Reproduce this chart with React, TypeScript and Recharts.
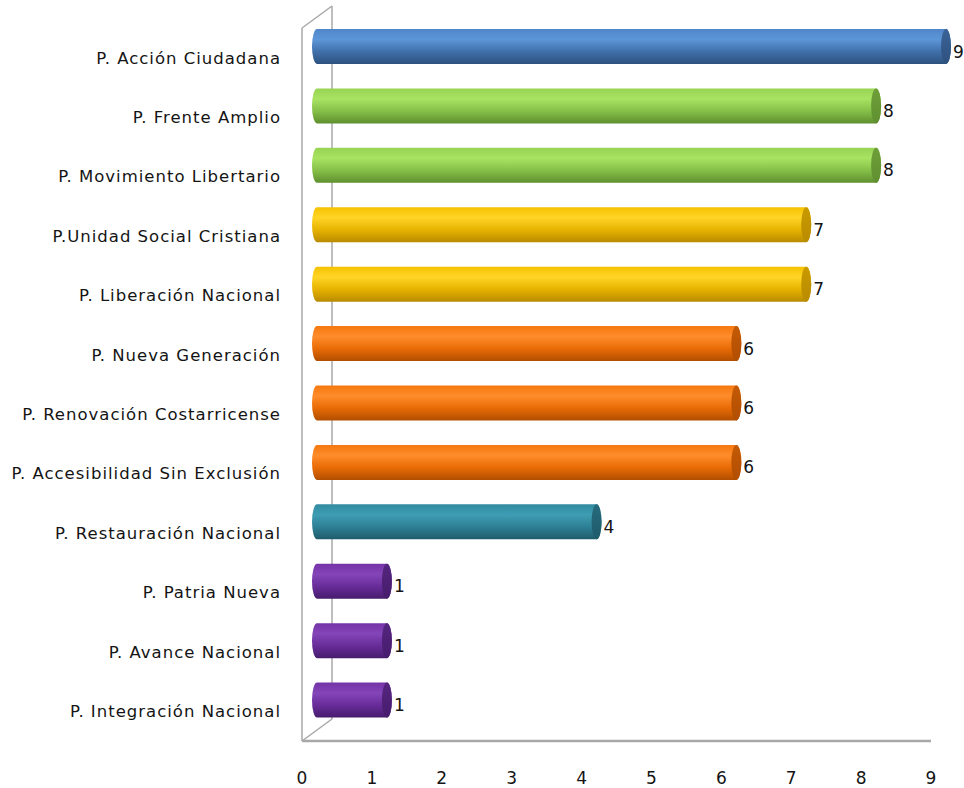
import React from "react";
import { BarChart, Bar, XAxis, YAxis, LabelList, Customized } from "recharts";

// Datos
const partidos = [
  "P. Acción Ciudadana",
  "P. Frente Amplio",
  "P. Movimiento Libertario",
  "P.Unidad Social Cristiana",
  "P. Liberación Nacional",
  "P. Nueva Generación",
  "P. Renovación Costarricense",
  "P. Accesibilidad Sin Exclusión",
  "P. Restauración Nacional",
  "P. Patria Nueva",
  "P. Avance Nacional",
  "P. Integración Nacional",
];
const valores = [9, 8, 8, 7, 7, 6, 6, 6, 4, 1, 1, 1];
const ticks = [0, 1, 2, 3, 4, 5, 6, 7, 8, 9];

// Paleta por barra: tonos del cuerpo (arriba -> abajo) y tapa
const paletas: Record<string, string[]> = {
  azul: ["#4f86c9", "#5d96d8", "#3f6fa9", "#2e527f", "#3b6397"],
  verde: ["#97d354", "#a9e362", "#86bf48", "#5f8f2f", "#6e9f3a"],
  amarillo: ["#f5c200", "#ffd526", "#e6b200", "#b98b00", "#c99a00"],
  naranja: ["#f5780f", "#ff8c2b", "#e86b05", "#b14e00", "#c45a06"],
  verdeAzul: ["#338ba1", "#3e9db3", "#2d7f94", "#1f5b6b", "#266b7c"],
  morado: ["#7434a8", "#8445b8", "#682c99", "#461c6c", "#55257f"],
};
const colorBarra = [
  "azul", "verde", "verde", "amarillo", "amarillo", "naranja",
  "naranja", "naranja", "verdeAzul", "morado", "morado", "morado",
];

const data = partidos.map((name, i) => ({ name, value: valores[i], color: colorBarra[i] }));

// geometría del "3D"
const W = 964;
const H = 788;
const LEFT = 302;
const TOP = 28;
const RIGHT = 931;
const BOTTOM = 741;
const DEPTH_X = 30;
const DEPTH_Y = 22;
const DX = DEPTH_X / 2;
const DY = -DEPTH_Y / 2;
const RX = 5;
const FONT = "DejaVu Sans";

const Cilindro = (props: any) => {
  const { x, y, width, height, payload } = props;
  const x0 = x + DX;
  const x1 = x + width + DX;
  const y0 = y + DY;
  const h = height;
  const ry = h / 2;
  const key = payload.color;
  const d = `M${x0},${y0} A${RX},${ry} 0 0 0 ${x0},${y0 + h} L${x1},${y0 + h} A${RX},${ry} 0 0 0 ${x1},${y0} Z`;
  return (
    <g>
      <path d={d} fill={`url(#cuerpo-${key})`} />
      <ellipse cx={x1} cy={y0 + ry} rx={RX} ry={ry} fill={`url(#tapa-${key})`} />
    </g>
  );
};

const Etiqueta = (props: any) => {
  const { x, y, width, height, value } = props;
  return (
    <text
      x={x + width + DX + 7}
      y={y + height / 2 + DY + 5}
      fontSize={17}
      fill="#141414"
      fontFamily={FONT}
      dominantBaseline="central"
    >
      {value}
    </text>
  );
};

const Pared = () => (
  <g stroke="#a8a8a8" strokeWidth={1.5} fill="none">
    <line x1={LEFT} y1={TOP} x2={LEFT} y2={BOTTOM} />
    <line x1={LEFT + DEPTH_X} y1={TOP - DEPTH_Y} x2={LEFT + DEPTH_X} y2={BOTTOM - DEPTH_Y} />
    <line x1={LEFT} y1={TOP} x2={LEFT + DEPTH_X} y2={TOP - DEPTH_Y} />
    <line x1={LEFT} y1={BOTTOM} x2={LEFT + DEPTH_X} y2={BOTTOM - DEPTH_Y} />
    <line x1={LEFT} y1={BOTTOM} x2={RIGHT} y2={BOTTOM} strokeWidth={2.5} />
  </g>
);

export default function App() {
  return (
    <div style={{ position: "absolute", left: 0, top: 0, background: "#fff" }}>
      <BarChart
        width={W}
        height={H}
        data={data}
        layout="vertical"
        margin={{ top: TOP, right: W - RIGHT, left: 0, bottom: 0 }}
        barSize={35}
      >
        <defs>
          {Object.entries(paletas).map(([k, c]) => (
            <React.Fragment key={k}>
              <linearGradient id={`cuerpo-${k}`} x1="0" y1="0" x2="0" y2="1">
                <stop offset="0%" stopColor={c[0]} />
                <stop offset="30%" stopColor={c[1]} />
                <stop offset="65%" stopColor={c[2]} />
                <stop offset="100%" stopColor={c[3]} />
              </linearGradient>
              <linearGradient id={`tapa-${k}`} x1="0" y1="0" x2="0" y2="1">
                <stop offset="0%" stopColor={c[4]} />
                <stop offset="100%" stopColor={c[3]} />
              </linearGradient>
            </React.Fragment>
          ))}
        </defs>
        <Customized component={Pared} />
        <XAxis
          type="number"
          domain={[0, 9]}
          ticks={ticks}
          axisLine={false}
          tickLine={false}
          tickSize={0}
          tickMargin={31}
          height={H - BOTTOM}
          tick={{ fill: "#141414", fontSize: 17, fontFamily: FONT }}
          interval={0}
        />
        <YAxis
          type="category"
          dataKey="name"
          width={LEFT}
          axisLine={false}
          tickLine={false}
          tickSize={0}
          tickMargin={21}
          interval={0}
          tick={{ fill: "#141414", fontSize: 16.5, fontFamily: FONT, letterSpacing: 1 }}
        />
        <Bar dataKey="value" shape={<Cilindro />} isAnimationActive={false}>
          <LabelList dataKey="value" content={<Etiqueta />} />
        </Bar>
      </BarChart>
    </div>
  );
}
